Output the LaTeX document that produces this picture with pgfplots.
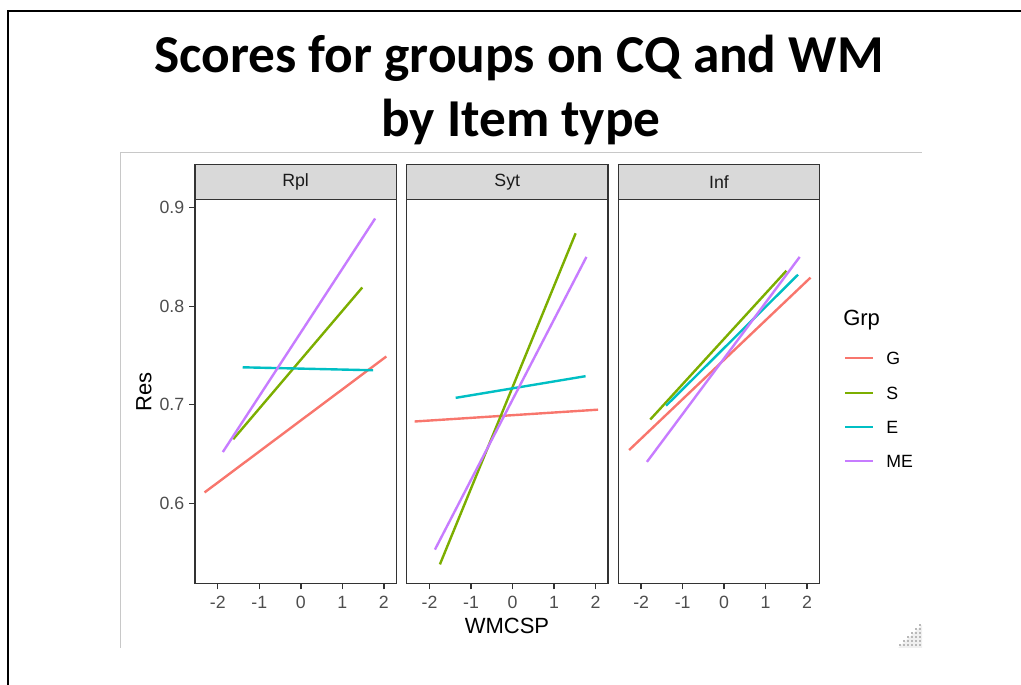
\documentclass[border=0pt]{standalone}
\usepackage{fontspec}
\setmainfont{Liberation Sans}
\newfontfamily\titlefont{Carlito}
\usepackage{pgfplots}
\pgfplotsset{compat=1.18}
\definecolor{cG}{HTML}{F8766D}
\definecolor{cS}{HTML}{7CAE00}
\definecolor{cE}{HTML}{00BFC4}
\definecolor{cME}{HTML}{C77CFF}
\definecolor{gray20}{HTML}{333333}
\definecolor{gray30}{HTML}{4D4D4D}
\definecolor{gray10}{HTML}{1A1A1A}
\definecolor{stripfill}{HTML}{D9D9D9}
\definecolor{frame}{HTML}{C8C8C8}
\newcommand{\tickfont}{\fontsize{13.3}{16}\selectfont}
\newcommand{\labfont}{\fontsize{16.5}{19}\selectfont}
\pgfplotsset{panel/.style={
  scale only axis, width=150.975pt, height=288pt, anchor=south west,
  xmin=-2.55, xmax=2.30, ymin=0.5188, ymax=0.9085,
  axis line style={gray20, line width=1pt},
  xtick={-2,-1,0,1,2}, xticklabels={-2,-1,0,1,2},
  tick align=outside, major tick length=4.5pt,
  tick style={gray20, line width=1pt},
  xtick pos=bottom, ytick pos=left,
  ticklabel style={font=\tickfont, text=gray30},
  xticklabel style={yshift=-1.5pt},
  /pgf/number format/assume math mode=true,
  every axis plot/.append style={line width=1.8pt, no markers},
}}
\begin{document}
\begin{tikzpicture}[x=0.75pt,y=0.75pt]
\path[use as bounding box] (0,0) rectangle (1021,685);
% slide frame and image frame
\draw[black, line width=1.6pt] (8,0) -- (8,674) -- (1021,674);
\draw[frame, line width=1pt] (120.7,37) -- (120.7,532.3) -- (921.7,532.3);
% title
\node[anchor=base, inner sep=0pt, font=\titlefont\bfseries\fontsize{40}{48}\selectfont] at (519,{685-72.5}) {Scores for groups on CQ and WM};
\node[anchor=base, inner sep=0pt, font=\titlefont\bfseries\fontsize{40}{48}\selectfont] at (521,{685-137}) {by Item type};
% strips
\draw[gray20, fill=stripfill, line width=1pt] (195,{685-199.3}) rectangle (396.3,{685-164.3});
\draw[gray20, fill=stripfill, line width=1pt] (406.7,{685-199.3}) rectangle (608,{685-164.3});
\draw[gray20, fill=stripfill, line width=1pt] (618.3,{685-199.3}) rectangle (819.6,{685-164.3});
\node[text=gray10, font=\tickfont] at (295.6,{685-182}) {Rpl};
\node[text=gray10, font=\tickfont] at (507.3,{685-182}) {Syt};
\node[text=gray10, font=\tickfont] at (719,{685-182}) {Inf};

\begin{axis}[panel, at={(146.25pt,76.275pt)},
  ytick={0.6,0.7,0.8,0.9}, yticklabels={0.6,0.7,0.8,0.9}]
\addplot[cG] coordinates {(-2.32,0.611) (2.06,0.749)};
\addplot[cS] coordinates {(-1.63,0.665) (1.48,0.819)};
\addplot[cE] coordinates {(-1.40,0.738) (1.74,0.735)};
\addplot[cME] coordinates {(-1.88,0.652) (1.79,0.889)};
\end{axis}

\begin{axis}[panel, at={(305.025pt,76.275pt)}, ytick=\empty]
\addplot[cG] coordinates {(-2.36,0.683) (2.06,0.695)};
\addplot[cS] coordinates {(-1.75,0.538) (1.52,0.874)};
\addplot[cE] coordinates {(-1.37,0.707) (1.76,0.729)};
\addplot[cME] coordinates {(-1.87,0.553) (1.78,0.850)};
\end{axis}

\begin{axis}[panel, at={(463.725pt,76.275pt)}, ytick=\empty]
\addplot[cG] coordinates {(-2.29,0.654) (2.08,0.829)};
\addplot[cS] coordinates {(-1.78,0.685) (1.50,0.836)};
\addplot[cE] coordinates {(-1.40,0.699) (1.78,0.832)};
\addplot[cME] coordinates {(-1.86,0.642) (1.82,0.850)};
\end{axis}

% axis titles
\node[rotate=90, font=\labfont, text=black] at (144,{685-392}) {Res};
\node[font=\labfont, text=black] at (507,{685-626}) {WMCSP};
% legend
\node[anchor=west, inner sep=0pt, font=\labfont] at (843,{685-320}) {Grp};
\draw[cG, line width=1.8pt] (845,{685-358}) -- (873,{685-358});
\draw[cS, line width=1.8pt] (845,{685-393}) -- (873,{685-393});
\draw[cE, line width=1.8pt] (845,{685-427}) -- (873,{685-427});
\draw[cME, line width=1.8pt] (845,{685-461}) -- (873,{685-461});
\node[anchor=west, inner sep=0pt, font=\tickfont] at (886,{685-358}) {G};
\node[anchor=west, inner sep=0pt, font=\tickfont] at (886,{685-393}) {S};
\node[anchor=west, inner sep=0pt, font=\tickfont] at (886,{685-427}) {E};
\node[anchor=west, inner sep=0pt, font=\tickfont] at (886,{685-461}) {ME};
% resize grip
\fill[gray!12] (898,37) -- (922,37) -- (922,60) -- cycle;
\foreach \i in {0,...,5}{
  \foreach \j in {0,...,\i}{
    \fill[gray!55] ({919-\j*4},{39+(5-\i)*4}) rectangle ++(2,2);
  }
}
\end{tikzpicture}
\end{document}
